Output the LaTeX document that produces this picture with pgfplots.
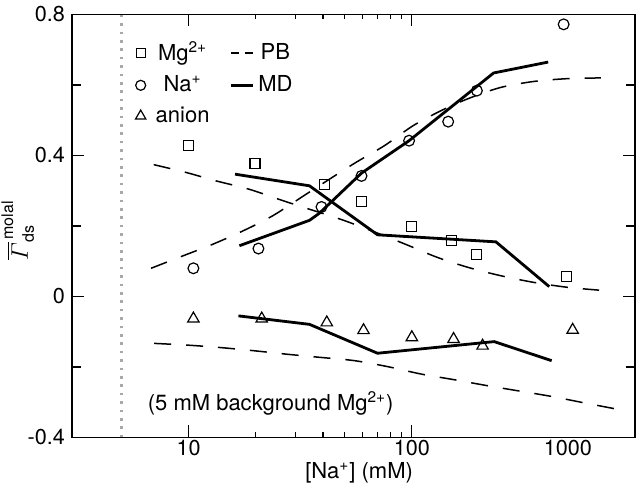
\documentclass[border=0pt]{standalone}
\usepackage{fontspec}
\setmainfont{TeX Gyre Heros}
\usepackage{amsmath}
\usepackage{pgfplots}
\pgfplotsset{compat=1.18}
\pgfplotsset{
  markleg/.style={legend image code/.code={\draw[##1] plot coordinates {(3pt,0pt)}; \path[draw=none] (0pt,0pt) -- (8.5pt,0pt);}},
  lineleg/.style={legend image code/.code={\draw[##1] (0pt,0pt) -- (11pt,0pt);}},
}
\definecolor{dotgray}{HTML}{A8A8A8}

\begin{document}
\begin{tikzpicture}
\begin{axis}[
  name=ax,
  scale only axis, width=281.5pt, height=211.5pt,
  xmode=log, xmin=3, xmax=1000, ymin=-0.4, ymax=0.8,
  xtick={10,100}, xticklabels={10,100},
  extra x ticks={500}, extra x tick labels={1000},
  extra x tick style={major tick length=0pt},
  ytick={-0.4,0,0.4,0.8}, yticklabels={-0.4,0,0.4,0.8},
  extra y ticks={-0.2,0.2,0.6}, extra y tick labels={},
  extra y tick style={major tick length=4.5pt},
  tick align=inside,
  major tick length=6pt, minor tick length=2.5pt,
  axis line style={line width=0.75pt},
  every tick/.style={black, line width=0.6pt},
  tick label style={font=\fontsize{10.8}{12}\selectfont},
  xticklabel style={inner sep=1pt},
  label style={font=\fontsize{11}{13}\selectfont},
  xlabel={[Na\textsuperscript{+}] (mM)},
  xlabel style={at={(axis description cs:0.51,-0.0969)}, anchor=base},
  ylabel={$\overline{\mathnormal{\Gamma}}^{\,\text{molal}}_{\text{ds}}$},
  ylabel style={at={(axis description cs:-0.1261,0.49)}, anchor=north, inner sep=0pt, font=\fontsize{12}{13}\selectfont},
  legend columns=2,
  legend style={draw=none, fill=none, font=\fontsize{11}{12}\selectfont,
    at={(rel axis cs:0.1,0.955)}, anchor=north west,
    row sep=2pt, column sep=0pt,
    /tikz/every even column/.append style={column sep=8pt}},
]
% dotted vertical line at 5 mM
\addplot[dotgray, line width=1.3pt, dash pattern=on 1.3pt off 2.9pt, forget plot] coordinates {(5,-0.4) (5,0.8)};

% PB (dashed)
\addplot[black, line width=0.75pt, dash pattern=on 8.5pt off 7.5pt, smooth, forget plot] coordinates {
(6.97,0.374) (9.72,0.352) (13.26,0.328) (18.72,0.304) (26.4,0.272) (35,0.247) (48,0.219) (65,0.188) (93.8,0.148) (130,0.111) (180,0.082) (250,0.059) (352,0.040) (499,0.026) (690,0.018)};
\addplot[black, line width=0.75pt, dash pattern=on 8.5pt off 7.5pt, smooth, forget plot] coordinates {
(6.78,0.080) (9.4,0.115) (12.8,0.148) (17.5,0.186) (23.8,0.229) (33.57,0.290) (54.4,0.375) (75,0.427) (101,0.484) (135,0.527) (180,0.562) (250,0.593) (352,0.610) (499,0.618) (704,0.620)};
\addplot[black, line width=0.75pt, dash pattern=on 8.5pt off 7.5pt, smooth, forget plot] coordinates {
(7.0,-0.133) (9.9,-0.138) (13.96,-0.145) (19.7,-0.154) (27.8,-0.164) (39.3,-0.173) (55.3,-0.182) (78,-0.199) (110,-0.220) (154.6,-0.236) (218,-0.253) (302,-0.268) (427,-0.284) (606,-0.303) (837,-0.320)};

% MD (solid)
\addplot[black, line width=1.4pt, forget plot] coordinates {
(16.13,0.347) (34.77,0.314) (70.2,0.175) (238.1,0.155) (412.8,0.028)};
\addplot[black, line width=1.4pt, forget plot] coordinates {
(16.88,0.144) (34.77,0.216) (38.5,0.236) (59.5,0.350) (97.2,0.442) (232.5,0.634) (408.3,0.665)};
\addplot[black, line width=1.4pt, forget plot] coordinates {
(16.71,-0.055) (34.77,-0.079) (70.2,-0.161) (233.9,-0.128) (423.1,-0.182)};

% symbols
\addplot[only marks, mark=square, mark size=2.5pt, mark options={black, fill=white, line width=0.6pt}, forget plot] coordinates {
(10,0.429) (19.83,0.378) (40.6,0.317) (59.7,0.269) (100,0.199) (150.7,0.159) (195,0.118) (492,0.057)};
\addplot[only marks, mark=o, mark size=2.7pt, mark options={black, fill=white, line width=0.6pt}, forget plot] coordinates {
(10.5,0.080) (20.54,0.136) (39.37,0.254) (59.5,0.342) (97.2,0.442) (145.5,0.496) (195.7,0.584) (478.9,0.772)};
\addplot[only marks, mark=triangle, mark size=3.3pt, mark options={black, fill=white, line width=0.6pt}, forget plot] coordinates {
(10.5,-0.063) (21.25,-0.063) (41.58,-0.074) (60.74,-0.096) (100,-0.116) (153.8,-0.121) (207.5,-0.140) (525.6,-0.095)};

% legend
\addlegendimage{black, mark=square, mark size=2.3pt, mark options={fill=white, line width=0.6pt}, markleg}
\addlegendentry{Mg\textsuperscript{2+}}
\addlegendimage{black, line width=0.75pt, dash pattern=on 4pt off 3pt, lineleg}
\addlegendentry{PB}
\addlegendimage{black, mark=o, mark size=2.5pt, mark options={fill=white, line width=0.6pt}, markleg}
\addlegendentry{Na\textsuperscript{+}}
\addlegendimage{black, line width=1.4pt, lineleg}
\addlegendentry{MD}
\addlegendimage{black, mark=triangle, mark size=3pt, mark options={fill=white, line width=0.6pt}, markleg}
\addlegendentry{anion}

\node[anchor=base west, font=\fontsize{11}{13}\selectfont] at (axis cs:6.1,-0.323) {(5 mM background Mg\textsuperscript{2+})};
\end{axis}
\path (ax.south west) ++(-36pt,-29.5pt) rectangle ++(1pt,1pt);
\path (ax.north east) ++(0.5pt,6pt) rectangle ++(-1pt,-1pt);
\end{tikzpicture}
\end{document}
